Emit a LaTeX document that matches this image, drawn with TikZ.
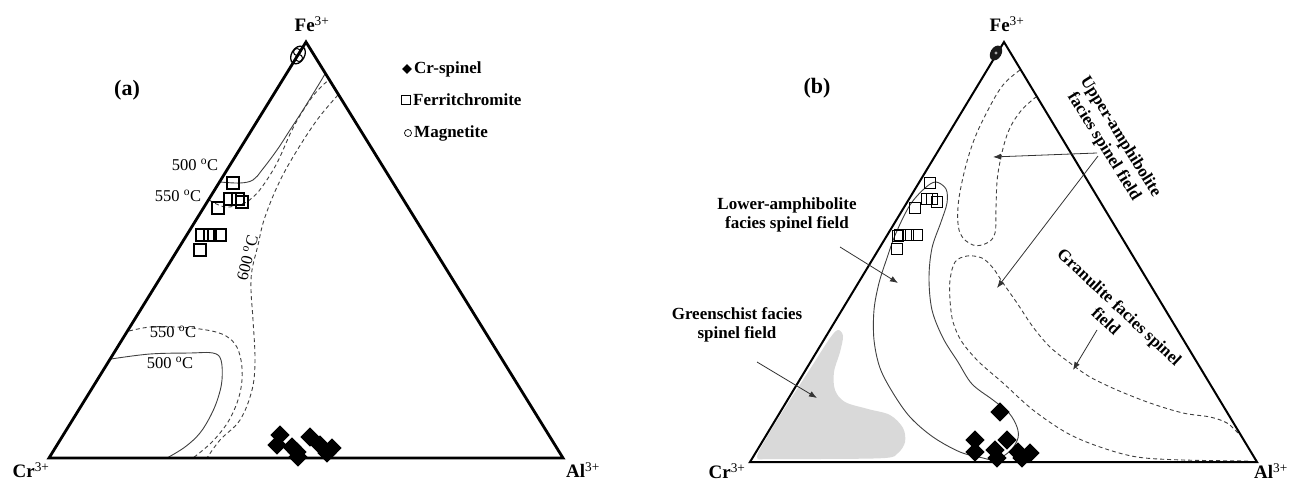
\documentclass[tikz,border=0pt]{standalone}
\usepackage{fontspec}
\setmainfont{Liberation Serif}
\usetikzlibrary{arrows.meta}
\begin{document}
\begin{tikzpicture}[x=1pt,y=-1pt,
  triA/.style={line width=2.8pt,line join=miter},
  triB/.style={line width=2pt,line join=miter},
  iso/.style={line width=0.9pt,draw=black!75},
  isodash/.style={iso,dash pattern=on 4pt off 3pt},
  arr/.style={line width=0.8pt,draw=black!80,-{Latex[length=8pt,width=6pt]}},
  fsq/.style={draw,line width=1.4pt,minimum size=12pt,inner sep=0pt},
  fsqb/.style={draw,line width=1.4pt,minimum size=10.5pt,inner sep=0pt},
  cspn/.style={fill=black,rotate=45,minimum size=13.5pt,inner sep=0pt},
  vlab/.style={font=\fontsize{19}{22}\selectfont,inner sep=0pt},
  plab/.style={font=\fontsize{22}{26}\selectfont\bfseries,inner sep=0pt},
  leg/.style={font=\fontsize{17}{20}\selectfont\bfseries,inner sep=0pt,anchor=west},
  tlab/.style={font=\fontsize{16.5}{20}\selectfont,inner sep=0pt},
  flab/.style={font=\fontsize{17}{19.5}\selectfont\bfseries,inner sep=0pt,align=center},
  greyfield/.style={fill=black!15}
]
\useasboundingbox (0,0) rectangle (1299,482);

% ================= Panel (a) =================
\coordinate (aCr) at (49,458);
\coordinate (aAl) at (563,458);
\coordinate (aFe) at (306,42);

% isotherms
\draw[iso] plot[smooth,tension=0.6] coordinates {(220,182) (240,183) (253,180) (262,170) (277,150) (290,130) (303,110) (316,89) (325,74)};
\draw[isodash] plot[smooth,tension=0.6] coordinates {(209,200) (225,207) (242,204) (252,198) (262,187) (277,163) (293,128) (310,100) (322,86) (329,80)};
\draw[isodash] plot[smooth,tension=0.6] coordinates {(338,95) (317,120) (293,157) (277,187) (264,220) (258,245) (252,270) (251,290) (253,320) (255,360) (252,390) (240,420) (220,440) (207,458)};
\draw[isodash] plot[smooth,tension=0.6] coordinates {(129,331) (150,327) (175,327) (200,329) (222,334) (235,344) (241,360) (242,380) (238,400) (228,422) (212,442) (193,458)};
\draw[iso] plot[smooth,tension=0.6] coordinates {(111,359) (150,354) (190,353) (213,353) (221,360) (222,380) (218,398) (211,415) (200,433) (185,447) (167,458)};

\draw[triA] (aCr) -- (aAl) -- (aFe) -- cycle;

\node[vlab] (aFeL) at (312,24) {\textbf{Fe}\textsuperscript{3+}};
\node[vlab] (aCrL) at (31,470) {\textbf{Cr}\textsuperscript{3+}};
\node[vlab] (aAlL) at (583,470) {\textbf{Al}\textsuperscript{3+}};
\node[plab] (aTag) at (127,90) {(a)};

\node[tlab] (t500a) at (195,165) {500 \textsuperscript{o}C};
\node[tlab] (t550a) at (178,196) {550 \textsuperscript{o}C};
\node[tlab] (t550b) at (173,332) {550 \textsuperscript{o}C};
\node[tlab] (t500b) at (170,363) {500 \textsuperscript{o}C};
\node[tlab,rotate=76] (t600) at (247,258) {600 \textsuperscript{o}C};

% legend
\node[cspn,minimum size=7pt] (lgD) at (407,69) {};
\node[leg] (lgDt) at (414,69) {Cr-spinel};
\node[draw,line width=1.2pt,minimum size=9pt,inner sep=0pt] (lgS) at (406,100) {};
\node[leg] (lgSt) at (413,100) {Ferritchromite};
\node[draw,circle,line width=0.7pt,minimum size=7pt,inner sep=0pt] (lgC) at (408,133) {};
\node[leg] (lgCt) at (414,133) {Magnetite};

% magnetite (a)
\draw[line width=1.3pt,rotate around={-30:(298,55)}] (298,55) ellipse [x radius=6.5pt,y radius=9.5pt];
\draw[line width=1pt] (297,52) circle [radius=3.5pt];
\draw[line width=1pt] (299,58) circle [radius=3.5pt];

% ferritchromite (a)
\foreach \p/\q in {233/183, 230/199, 238/199, 242/202, 218/208, 202/235, 210/235, 220/235, 200/250}
  \node[fsq] at (\p,\q) {};

% Cr-spinel (a)
\foreach \p/\q in {280/435, 277/445, 292/447, 297/452, 298/457, 310/437, 320/445, 332/448, 327/453}
  \node[cspn] at (\p,\q) {};

% ================= Panel (b) =================
\coordinate (bCr) at (750,462);
\coordinate (bAl) at (1257,462);
\coordinate (bFe) at (1004,42);

% greenschist field
\fill[greyfield] plot[smooth cycle,tension=0.55] coordinates {(757,457) (770,432) (790,400) (812,366) (830,338) (838,330) (843,336) (840,352) (834,372) (835,390) (845,402) (868,409) (890,415) (903,428) (905,442) (898,453) (885,458) (820,459) (770,459)};

% lower-amphibolite field boundary
\draw[iso] plot[smooth cycle,tension=0.55] coordinates {(936,182) (946,189) (947,203) (941,222) (932,248) (929,278) (932,310) (943,338) (958,362) (972,384) (993,400) (1009,413) (1017,427) (1018,438) (1012,449) (1002,457) (993,460) (983,458) (960,452) (933,437) (910,417) (893,393) (880,368) (874,340) (874,310) (879,283) (887,258) (896,233) (910,205) (925,188)};

% upper-amphibolite field
\draw[isodash] plot[smooth,tension=0.6] coordinates {(1020,70) (1003,85) (988,110) (974,140) (964,173) (958,207) (960,233) (973,245) (987,243) (995,233) (996,207) (998,173) (1007,135) (1020,112) (1036,97)};

% granulite field
\draw[isodash] plot[smooth,tension=0.55] coordinates {(1238,433) (1227,423) (1210,417) (1183,413) (1150,403) (1117,390) (1090,377) (1070,363) (1050,347) (1033,327) (1017,303) (1003,283) (993,268) (982,258) (967,256) (955,262) (950,280) (950,300) (953,322) (962,342) (979,362) (1003,383) (1033,410) (1067,433) (1100,447) (1137,457) (1183,460) (1250,461)};

\draw[triB] (bCr) -- (bAl) -- (bFe) -- cycle;

\node[vlab] (bFeL) at (1007,24) {\textbf{Fe}\textsuperscript{3+}};
\node[vlab] (bCrL) at (727,471) {\textbf{Cr}\textsuperscript{3+}};
\node[vlab] (bAlL) at (1271,471) {\textbf{Al}\textsuperscript{3+}};
\node[plab] (bTag) at (817,88) {(b)};

% field labels
\node[flab] (lowL) at (787,215) {Lower-amphibolite\\facies spinel field};
\node[flab] (grnL) at (737,325) {Greenschist facies\\spinel field};
\node[flab,rotate=-58] (upL) at (1112,142) {Upper-amphibolite\\facies spinel field};
\node[flab,rotate=-43] (gruL) at (1113,314) {Granulite facies spinel\\field};

% arrows
\coordinate (uaS1) at (1097,153); \coordinate (uaT1) at (993,157);
\coordinate (uaS2) at (1098,156); \coordinate (uaT2) at (997,288);
\coordinate (grS) at (1097,330);  \coordinate (grT) at (1073,370);
\coordinate (laS) at (840,247);   \coordinate (laT) at (898,283);
\coordinate (gsS) at (757,362);   \coordinate (gsT) at (817,398);
\draw[arr] (uaS1) -- (uaT1);
\draw[arr] (uaS2) -- (uaT2);
\draw[arr] (grS) -- (grT);
\draw[arr] (laS) -- (laT);
\draw[arr] (gsS) -- (gsT);

% magnetite (b)
\fill[black!90,rotate around={-30:(996,53)}] (996,53) ellipse [x radius=5.5pt,y radius=8pt];
\fill[black!35] (996,53) circle [radius=1.6pt];

% ferritchromite (b)
\foreach \p/\q in {930/183, 927/199, 932/199, 937/202, 915/208, 898/236, 900/235, 908/235, 917/235, 897/249}
  \node[fsqb] at (\p,\q) {};

% Cr-spinel (b)
\foreach \p/\q in {1000/412, 975/440, 975/452, 995/450, 997/458, 1007/440, 1018/452, 1030/453, 1022/458}
  \node[cspn] at (\p,\q) {};

\end{tikzpicture}
\end{document}
